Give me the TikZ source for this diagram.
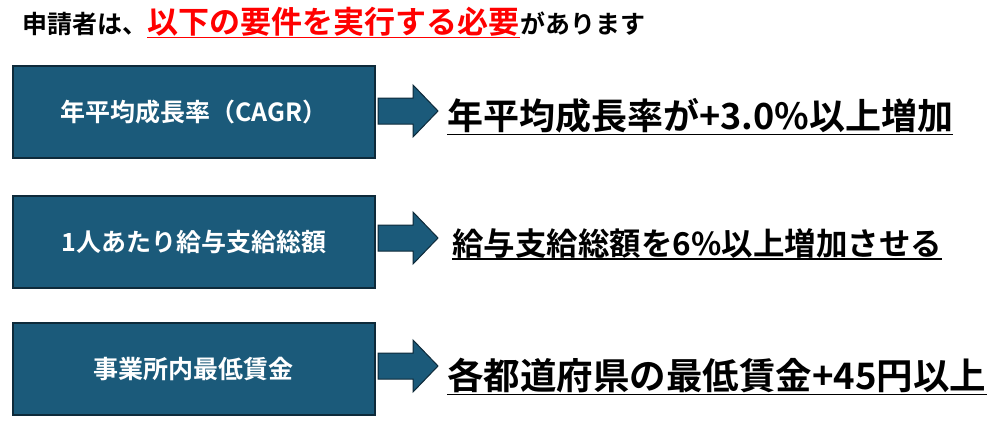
\documentclass[tikz,border=0pt]{standalone}
\usepackage{fontspec}
\setmainfont{Noto Sans CJK JP}
\newfontfamily\jp{Noto Sans CJK JP Bold}
\definecolor{boxblue}{HTML}{1B5A7A}
\definecolor{boxedge}{HTML}{0E2A3A}
\definecolor{titlered}{HTML}{FF0000}
\usetikzlibrary{calc}
\tikzset{
  reqbox/.style={draw=boxedge,line width=1.5pt,fill=boxblue,minimum width=362pt,minimum height=92pt,
    text=white,font=\jp\fontsize{25}{25}\selectfont,anchor=north west,inner sep=0pt},
  goal/.style={anchor=west,inner sep=0pt,font=\jp\fontsize{36}{36}\selectfont},
  uline/.style={line width=1.5pt},
}
\newcommand{\blockarrow}[1]{%
  \draw[draw=boxedge,line width=1pt,fill=boxblue]
    ($(#1)+(0,-13)$) -- ++(35,0) -- ++(0,-13) -- ++(25,26) -- ++(-25,26) -- ++(0,-13) -- ++(-35,0) -- cycle;}
\begin{document}
\begin{tikzpicture}[x=1pt,y=-1pt]
  \useasboundingbox (0,0) rectangle (999,426);

  \node[anchor=west,inner sep=0pt,font=\jp\fontsize{25}{25}\selectfont] (title1) at (22,24) {申請者は、};
  \node[anchor=base west,inner sep=0pt,text=titlered,font=\jp\fontsize{31}{31}\selectfont] (title2)
    at (title1.base east) {以下の要件を実行する必要};
  \node[anchor=base west,inner sep=0pt,font=\jp\fontsize{25}{25}\selectfont] (title3)
    at (title2.base east) {があります};
  \draw[uline,titlered] ($(title2.south west)+(0,1)$) -- ($(title2.south east)+(0,1)$);

  \node[reqbox] (req1) at (12,65) {年平均成長率（CAGR）};
  \node[reqbox] (req2) at (12,195) {1人あたり給与支給総額};
  \node[reqbox] (req3) at (12,322) {事業所内最低賃金};

  \coordinate (a1) at (378,111);
  \coordinate (a2) at (378,238);
  \coordinate (a3) at (378,366);
  \blockarrow{a1}
  \blockarrow{a2}
  \blockarrow{a3}

  \node[goal] (goal1) at (447,116) {年平均成長率が+3.0\%以上増加};
  \node[goal,font=\jp\fontsize{31.5}{31.5}\selectfont] (goal2) at (452,243) {給与支給総額を6\%以上増加させる};
  \node[goal,font=\jp\fontsize{36.5}{36.5}\selectfont] (goal3) at (447,376) {各都道府県の最低賃金+45円以上};
  \foreach \g in {goal1,goal2,goal3}
    \draw[uline] ($(\g.south west)+(0,1)$) -- ($(\g.south east)+(0,1)$);
\end{tikzpicture}
\end{document}
